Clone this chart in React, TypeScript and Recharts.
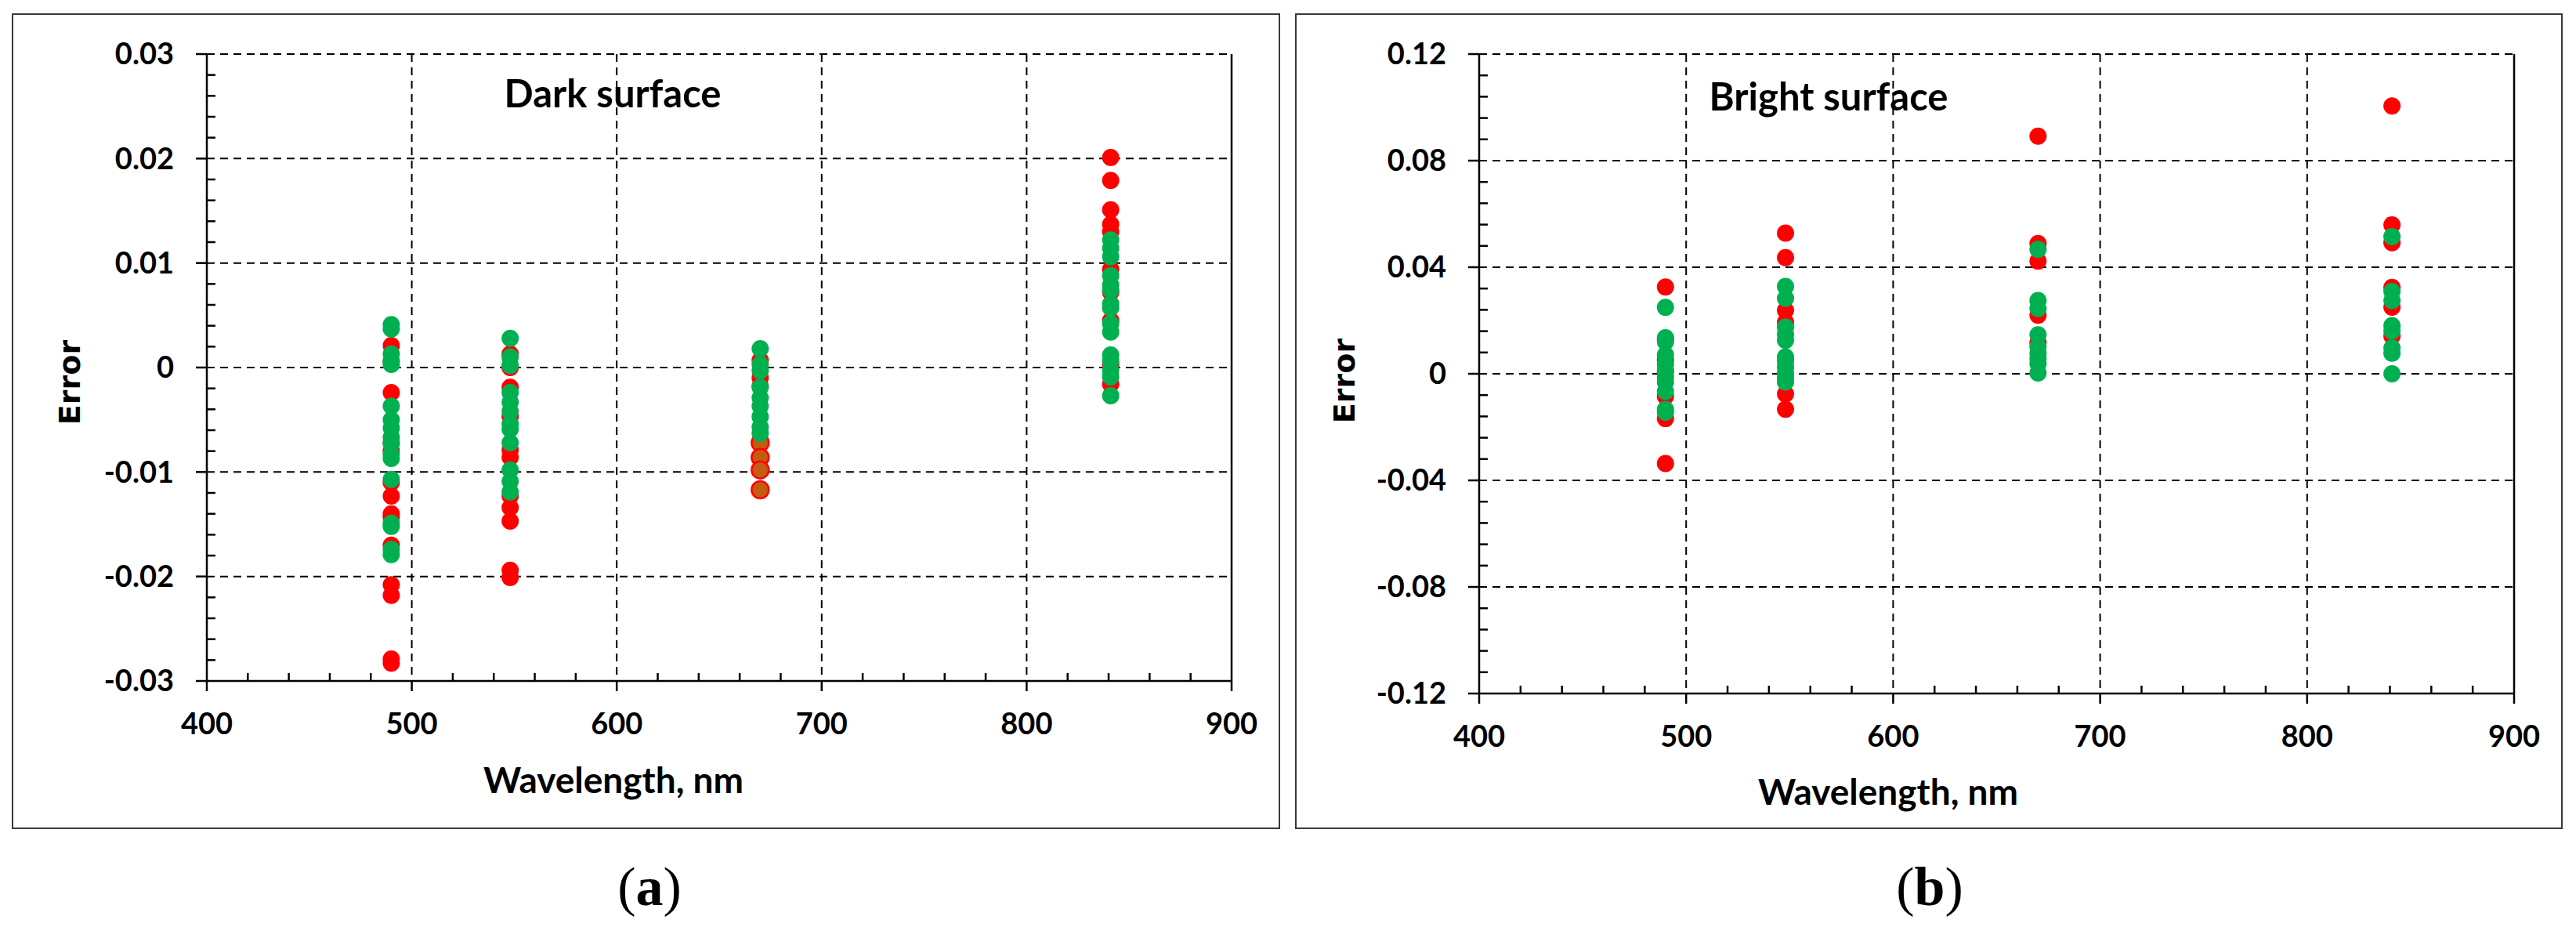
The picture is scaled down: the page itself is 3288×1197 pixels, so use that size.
import { ScatterChart, Scatter, XAxis, YAxis, CartesianGrid, ReferenceLine } from "recharts";

// band centres, nm
const wavelengths = [490, 548, 670, 841];

// Dark surface errors, one list per band
const darkRed = [
  [0.0021, 0.0006, -0.0024, -0.0072, -0.008, -0.011, -0.0123, -0.014, -0.0143, -0.017, -0.0208, -0.0218, -0.0279, -0.0283],
  [0.0013, 0.0, -0.0019, -0.0047, -0.0079, -0.0086, -0.0123, -0.0134, -0.0147, -0.0194, -0.0201],
  [0.0007, -0.0018, -0.001],
  [0.0201, 0.0179, 0.0151, 0.0137, 0.013, 0.0094, 0.0072, 0.0045, 0.0003, -0.0016],
];
const darkBrown = [[], [], [-0.0072, -0.0086, -0.0098, -0.0117], []];
const darkGreen = [
  [0.0041, 0.0037, 0.0013, 0.0006, 0.0003, -0.0037, -0.005, -0.0058, -0.0067, -0.0073, -0.0083, -0.0087, -0.0107, -0.0149, -0.0152, -0.0174, -0.0179],
  [0.0028, 0.001, 0.0002, -0.0024, -0.0033, -0.0042, -0.0054, -0.0059, -0.0072, -0.0098, -0.0109, -0.0119],
  [0.0018, 0.0003, -0.0003, -0.0019, -0.0029, -0.0037, -0.0047, -0.0057, -0.0063],
  [0.0122, 0.0114, 0.0106, 0.0088, 0.0079, 0.0074, 0.0061, 0.0057, 0.0042, 0.0034, 0.0012, 0.0006, -0.0003, -0.0009, -0.0027],
];

// Bright surface errors
const brightRed = [
  [0.0326, 0.013, 0.0052, 0.0008, -0.0085, -0.0168, -0.0337],
  [0.0528, 0.0436, 0.0238, 0.0193, -0.0076, -0.0133],
  [0.0892, 0.0489, 0.0423, 0.022, 0.0117],
  [0.1005, 0.0559, 0.0492, 0.0324, 0.025, 0.0141],
];
const brightGreen = [
  [0.0249, 0.0135, 0.012, 0.0071, 0.0037, 0.0013, -0.0012, -0.0031, -0.0066, -0.0134, -0.0144],
  [0.0328, 0.0283, 0.0175, 0.0148, 0.0126, 0.0063, 0.0047, 0.0025, 0.0002, -0.0013, -0.0031],
  [0.0467, 0.0275, 0.0245, 0.0146, 0.0102, 0.0077, 0.0057, 0.0038, 0.0003],
  [0.0515, 0.0309, 0.0275, 0.0181, 0.0161, 0.0097, 0.0077, 0.0],
];

const xTicks = [400, 500, 600, 700, 800, 900];
const darkTicks = [-0.03, -0.02, -0.01, 0, 0.01, 0.02, 0.03];
const brightTicks = [-0.12, -0.08, -0.04, 0, 0.04, 0.08, 0.12];

const RED = "#FF0000";
const GREEN = "#00B050";
const BROWN = "#C55A11";

const toPoints = (cols: number[][]) =>
  cols.flatMap((ys, i) => ys.map((y) => ({ x: wavelengths[i], y })));

const steps = (from: number, to: number, step: number) =>
  Array.from({ length: Math.round((to - from) / step) + 1 }, (_, i) => +(from + i * step).toFixed(4));

const fmtTick = (v: number) => (v === 0 ? "0" : v.toFixed(2));
const isMajor = (majors: number[], v: number) => majors.some((m) => Math.abs(m - v) < 1e-6);

const dot = (fill: string, stroke?: string) => (props: any) => (
  <circle cx={props.cx} cy={props.cy} r={11} fill={fill} stroke={stroke ?? "none"} strokeWidth={2.5} />
);

const tickFont = { fontFamily: "Lato", fontWeight: 700, fontSize: 38, fill: "#000" };
const blackLine = { stroke: "#000", strokeWidth: 2.5 };

// major ticks point out and carry a label, minor ticks point into the plot
const yTick = (majors: number[]) => (props: any) => {
  const { x, y, payload } = props;
  if (!isMajor(majors, payload.value)) {
    return <line x1={x} x2={x + 11} y1={y} y2={y} {...blackLine} />;
  }
  return (
    <g>
      <line x1={x - 14} x2={x} y1={y} y2={y} {...blackLine} />
      <text x={x - 42} y={y} dy="0.355em" textAnchor="end" {...tickFont}>
        {fmtTick(payload.value)}
      </text>
    </g>
  );
};

const xTick = (props: any) => {
  const { x, y, payload } = props;
  if (!isMajor(xTicks, payload.value)) {
    return <line x1={x} x2={x} y1={y} y2={y - 10} {...blackLine} />;
  }
  return (
    <g>
      <line x1={x} x2={x} y1={y} y2={y + 13} {...blackLine} />
      <text x={x} y={y + 41} dy="0.71em" textAnchor="middle" {...tickFont}>
        {payload.value}
      </text>
    </g>
  );
};

interface PanelProps {
  left: number;
  width: number;
  margin: { top: number; right: number; bottom: number; left: number };
  yTicks: number[];
  yMinor: number;
  series: { data: { x: number; y: number }[]; fill: string; stroke?: string }[];
}

function Panel({ left, width, margin, yTicks, yMinor, series }: PanelProps) {
  const yMin = yTicks[0];
  const yMax = yTicks[yTicks.length - 1];
  return (
    <div style={{ position: "absolute", left, top: 17 }}>
      <ScatterChart width={width} height={1041} margin={margin}>
        <CartesianGrid
          stroke="#000"
          strokeWidth={2}
          strokeDasharray="10 7"
          horizontalValues={yTicks}
          verticalValues={xTicks}
        />
        <XAxis
          type="number"
          dataKey="x"
          domain={[400, 900]}
          ticks={steps(400, 900, 20)}
          interval={0}
          height={80}
          tickSize={0}
          tickMargin={0}
          tick={xTick}
          tickLine={false}
          axisLine={blackLine}
        />
        <YAxis
          type="number"
          dataKey="y"
          domain={[yMin, yMax]}
          ticks={steps(yMin, yMax, yMinor)}
          interval={0}
          width={120}
          tickSize={0}
          tickMargin={0}
          tick={yTick(yTicks)}
          tickLine={false}
          axisLine={blackLine}
        />
        <ReferenceLine x={900} stroke="#000" strokeWidth={2.5} />
        {series.map((s, i) => (
          <Scatter key={i} data={s.data} shape={dot(s.fill, s.stroke)} isAnimationActive={false} />
        ))}
      </ScatterChart>
    </div>
  );
}

const label = (x: number, y: number, text: string, style: React.CSSProperties = {}) => (
  <div
    style={{
      position: "absolute",
      left: x,
      top: y,
      transform: "translate(-50%, -50%)",
      whiteSpace: "nowrap",
      fontFamily: "Lato",
      fontWeight: 700,
      fontSize: 46,
      color: "#000",
      lineHeight: 1,
      ...style,
    }}
  >
    {text}
  </div>
);

const errorStyle: React.CSSProperties = {
  fontFamily: "DejaVu Sans",
  fontSize: 38,
  transform: "translate(-50%, -50%) rotate(-90deg)",
};
const letterStyle: React.CSSProperties = { fontFamily: "Liberation Serif", fontWeight: 400, fontSize: 70 };

export default function App() {
  return (
    <div style={{ position: "absolute", left: 0, top: 0, width: 3288, height: 1197, background: "#fff", overflow: "hidden" }}>
      <div style={{ position: "absolute", left: 15, top: 17, width: 1619, height: 1041, border: "2px solid #3a3a3a", boxSizing: "border-box" }} />
      <div style={{ position: "absolute", left: 1653, top: 17, width: 1618, height: 1041, border: "2px solid #3a3a3a", boxSizing: "border-box" }} />

      <Panel
        left={15}
        width={1619}
        margin={{ top: 52, right: 62, left: 129, bottom: 109 }}
        yTicks={darkTicks}
        yMinor={0.002}
        series={[
          { data: toPoints(darkRed), fill: RED },
          { data: toPoints(darkBrown), fill: BROWN, stroke: RED },
          { data: toPoints(darkGreen), fill: GREEN },
        ]}
      />
      <Panel
        left={1653}
        width={1618}
        margin={{ top: 52, right: 62, left: 115, bottom: 93 }}
        yTicks={brightTicks}
        yMinor={0.008}
        series={[
          { data: toPoints(brightRed), fill: RED },
          { data: toPoints(brightGreen), fill: GREEN },
        ]}
      />

      {label(89, 488, "Error", errorStyle)}
      {label(783, 995, "Wavelength, nm")}
      {label(782, 118, "Dark surface", { fontSize: 49 })}
      <div style={{ position: "absolute", left: 829, top: 1132, transform: "translate(-50%, -50%)", ...letterStyle, lineHeight: 1 }}>
        (<b>a</b>)
      </div>

      {label(1716, 486, "Error", errorStyle)}
      {label(2410, 1010, "Wavelength, nm")}
      {label(2334, 122, "Bright surface", { fontSize: 49 })}
      <div style={{ position: "absolute", left: 2463, top: 1132, transform: "translate(-50%, -50%)", ...letterStyle, lineHeight: 1 }}>
        (<b>b</b>)
      </div>
    </div>
  );
}
